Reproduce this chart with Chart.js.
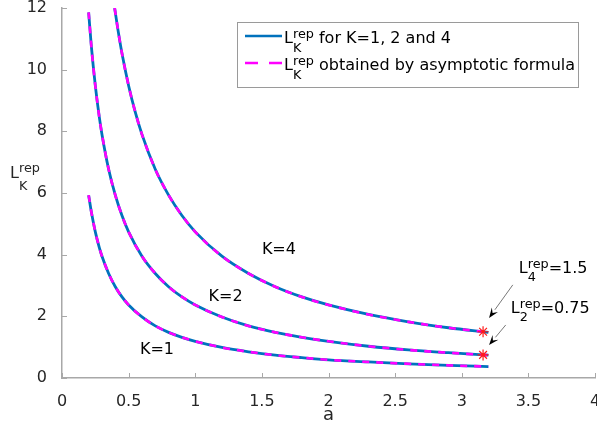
<!DOCTYPE html>
<html>
<head>
  <script src="https://cdn.jsdelivr.net/npm/chart.js"></script>
  <style>
    body { margin: 0; background: #ffffff; }
    #chart { display: block; }
  </style>
</head>
<body>
  <canvas id="chart" width="597" height="426"></canvas>
  <script>
    // values
    const aK12 = [0.2, 0.22, 0.25, 0.28, 0.3, 0.35, 0.4, 0.45, 0.5, 0.6, 0.7, 0.8, 0.9, 1.0, 1.2, 1.4, 1.6, 1.8, 2.0, 2.3, 2.6, 2.9, 3.2];
    const lK1 = [5.93, 5.39, 4.74, 4.23, 3.95, 3.39, 2.96, 2.63, 2.37, 1.98, 1.69, 1.48, 1.32, 1.19, 0.99, 0.85, 0.74, 0.66, 0.59, 0.52, 0.46, 0.41, 0.37];
    const lK2 = [11.86, 10.77, 9.48, 8.46, 7.9, 6.77, 5.93, 5.27, 4.74, 3.95, 3.39, 2.96, 2.63, 2.37, 1.98, 1.69, 1.48, 1.32, 1.19, 1.03, 0.91, 0.82, 0.74];
    const aK4 = [0.395, 0.42, 0.45, 0.5, 0.55, 0.6, 0.7, 0.8, 0.9, 1.0, 1.2, 1.4, 1.6, 1.8, 2.0, 2.3, 2.6, 2.9, 3.2];
    const lK4 = [12.0, 11.29, 10.53, 9.48, 8.62, 7.9, 6.77, 5.93, 5.27, 4.74, 3.95, 3.39, 2.96, 2.63, 2.37, 2.06, 1.82, 1.63, 1.48];

    const starA = [3.16, 3.16];
    const starL = [1.5, 0.75];

    const curveLabels = ['K=1', 'K=2', 'K=4'];
    const curveLabelA = [0.585, 1.1, 1.5];
    const curveLabelL = [0.92, 2.63, 4.17];

    const xTicks = [0, 0.5, 1, 1.5, 2, 2.5, 3, 3.5, 4];
    const yTicks = [0, 2, 4, 6, 8, 10, 12];

    const FONT = '"DejaVu Sans", sans-serif';
    const BLUE = '#0072BD';
    const MAGENTA = '#FF00FF';
    const AXIS = '#a8a8a8';
    const TEXT = '#262626';

    const pts = (xs, ys) => xs.map((x, i) => ({ x: x, y: ys[i] }));

    function solid(xs, ys) {
      return { data: pts(xs, ys), showLine: true, borderColor: BLUE, borderWidth: 2.8,
               pointRadius: 0, cubicInterpolationMode: 'monotone', order: 2 };
    }
    function dashed(xs, ys) {
      return { data: pts(xs, ys), showLine: true, borderColor: MAGENTA, borderWidth: 2.6,
               borderDash: [7, 7], pointRadius: 0, cubicInterpolationMode: 'monotone', order: 1 };
    }

    // draws text like L_K^rep with sub/superscripts
    function rich(ctx, x, y, parts, size, supDy, subDy) {
      let cx = x;
      ctx.textBaseline = 'alphabetic';
      ctx.textAlign = 'left';
      for (const p of parts) {
        if (p.t) {
          ctx.font = size + 'px ' + FONT;
          ctx.fillText(p.t, cx, y);
          cx += ctx.measureText(p.t).width;
        } else {
          ctx.font = (size * 0.8) + 'px ' + FONT;
          let w = 0;
          if (p.sup) { ctx.fillText(p.sup, cx, y - supDy); w = ctx.measureText(p.sup).width; }
          if (p.sub) { ctx.fillText(p.sub, cx, y + subDy); w = Math.max(w, ctx.measureText(p.sub).width); }
          cx += w;
        }
      }
      return cx;
    }

    function arrow(ctx, x1, y1, x2, y2) {
      const ang = Math.atan2(y2 - y1, x2 - x1);
      const len = 10, half = 3.8;
      const bx = x2 - len * Math.cos(ang), by = y2 - len * Math.sin(ang);
      ctx.strokeStyle = '#555';
      ctx.lineWidth = 0.8;
      ctx.beginPath();
      ctx.moveTo(x1, y1);
      ctx.lineTo(bx, by);
      ctx.stroke();
      ctx.fillStyle = '#000';
      ctx.beginPath();
      ctx.moveTo(x2, y2);
      ctx.lineTo(bx - half * Math.sin(ang), by + half * Math.cos(ang));
      ctx.lineTo(x2 - 0.6 * len * Math.cos(ang), y2 - 0.6 * len * Math.sin(ang));
      ctx.lineTo(bx + half * Math.sin(ang), by - half * Math.cos(ang));
      ctx.closePath();
      ctx.fill();
    }

    const extras = {
      id: 'extras',
      afterDraw(chart) {
        const ctx = chart.ctx;
        const xs = chart.scales.x, ys = chart.scales.y;
        const area = chart.chartArea;
        ctx.save();

        // inward tick marks
        ctx.strokeStyle = AXIS;
        ctx.lineWidth = 1;
        ctx.beginPath();
        xTicks.forEach(v => {
          const px = Math.round(xs.getPixelForValue(v)) + 0.5;
          ctx.moveTo(px, area.bottom);
          ctx.lineTo(px, area.bottom - 5);
        });
        yTicks.forEach(v => {
          const py = Math.round(ys.getPixelForValue(v)) + 0.5;
          ctx.moveTo(area.left, py);
          ctx.lineTo(area.left + 5, py);
        });
        ctx.stroke();

        // curve labels
        ctx.fillStyle = '#000';
        ctx.font = '16px ' + FONT;
        ctx.textBaseline = 'middle';
        ctx.textAlign = 'left';
        curveLabels.forEach((t, i) => {
          ctx.fillText(t, xs.getPixelForValue(curveLabelA[i]), ys.getPixelForValue(curveLabelL[i]));
        });

        // annotations
        rich(ctx, xs.getPixelForValue(3.428), ys.getPixelForValue(3.41),
             [{ t: 'L' }, { sup: 'rep', sub: '4' }, { t: '=1.5' }], 16, 5, 8.5);
        rich(ctx, xs.getPixelForValue(3.368), ys.getPixelForValue(2.11),
             [{ t: 'L' }, { sup: 'rep', sub: '2' }, { t: '=0.75' }], 16, 5, 8.5);
        arrow(ctx, xs.getPixelForValue(3.383), ys.getPixelForValue(3.02),
              xs.getPixelForValue(3.205), ys.getPixelForValue(1.95));
        arrow(ctx, xs.getPixelForValue(3.33), ys.getPixelForValue(1.72),
              xs.getPixelForValue(3.205), ys.getPixelForValue(1.07));

        // axis labels
        ctx.fillStyle = TEXT;
        ctx.font = '18px ' + FONT;
        ctx.textAlign = 'center';
        ctx.textBaseline = 'alphabetic';
        ctx.fillText('a', (area.left + area.right) / 2, 420);
        rich(ctx, 10, 178, [{ t: 'L' }, { sup: 'rep', sub: 'K' }], 16, 6, 12);

        // legend
        const lx = 237.5, ly = 22.5, lw = 341, lh = 65;
        ctx.fillStyle = '#fff';
        ctx.fillRect(lx, ly, lw, lh);
        ctx.strokeStyle = '#9a9a9a';
        ctx.lineWidth = 1;
        ctx.strokeRect(lx, ly, lw, lh);

        ctx.lineWidth = 2.6;
        ctx.strokeStyle = BLUE;
        ctx.beginPath();
        ctx.moveTo(245, 36);
        ctx.lineTo(282, 36);
        ctx.stroke();
        ctx.strokeStyle = MAGENTA;
        ctx.setLineDash([13, 11]);
        ctx.beginPath();
        ctx.moveTo(245, 63);
        ctx.lineTo(282, 63);
        ctx.stroke();
        ctx.setLineDash([]);

        ctx.fillStyle = '#000';
        rich(ctx, 284, 43, [{ t: 'L' }, { sup: 'rep', sub: 'K' }, { t: ' for K=1, 2 and 4' }], 16, 5, 8.5);
        rich(ctx, 284, 70, [{ t: 'L' }, { sup: 'rep', sub: 'K' }, { t: ' obtained by asymptotic formula' }], 16, 5, 8.5);

        ctx.restore();
      }
    };

    const noPad = s => { s.paddingLeft = 0; s.paddingRight = 0; s.paddingTop = 0; s.paddingBottom = 0; };

    new Chart(document.getElementById('chart'), {
      type: 'scatter',
      data: {
        datasets: [
          solid(aK12, lK1), dashed(aK12, lK1),
          solid(aK12, lK2), dashed(aK12, lK2),
          solid(aK4, lK4), dashed(aK4, lK4),
          {
            data: pts(starA, starL), pointStyle: 'star', pointRadius: 5.5,
            borderColor: '#ff1a1a', borderWidth: 1.2, backgroundColor: '#ff1a1a', order: 0
          }
        ]
      },
      options: {
        responsive: false,
        animation: false,
        events: [],
        layout: { autoPadding: false, padding: { top: 8, right: 2, left: 0, bottom: 0 } },
        plugins: { legend: { display: false }, tooltip: { enabled: false } },
        scales: {
          x: {
            type: 'linear', min: 0, max: 4,
            afterBuildTicks: s => { s.ticks = xTicks.map(v => ({ value: v })); },
            afterFit: s => { s.height = 48; noPad(s); },
            grid: { display: false },
            border: { display: true, color: AXIS, width: 1.5 },
            ticks: { color: TEXT, font: { family: FONT, size: 16 }, padding: 6, maxRotation: 0,
                     callback: v => String(v) }
          },
          y: {
            type: 'linear', min: 0, max: 12,
            afterBuildTicks: s => { s.ticks = yTicks.map(v => ({ value: v })); },
            afterFit: s => { s.width = 62; noPad(s); },
            grid: { display: false },
            border: { display: true, color: AXIS, width: 1.5 },
            ticks: { color: TEXT, font: { family: FONT, size: 16 }, padding: 7,
                     callback: v => String(v) }
          }
        }
      },
      plugins: [extras]
    });
  </script>
</body>
</html>
